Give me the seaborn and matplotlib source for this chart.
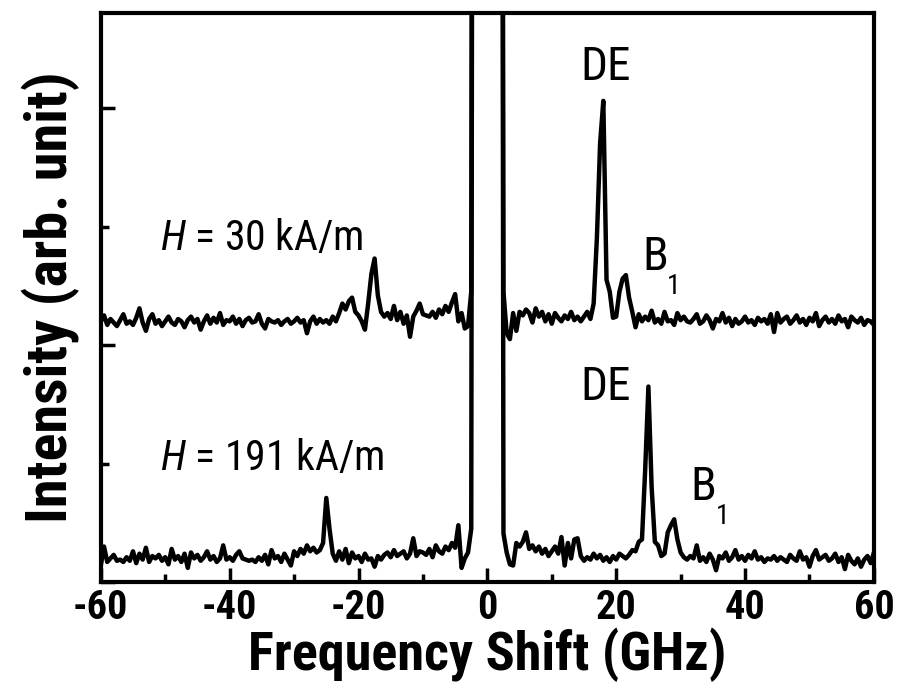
import numpy as np
import pandas as pd
import matplotlib
matplotlib.use("Agg")
import matplotlib.pyplot as plt
from matplotlib import font_manager as fm
import seaborn as sns

# frequency grid, 0.5 GHz steps from -60 to 60
freq = np.arange(-60, 60.25, 0.5)

# H = 30 kA/m spectrum (offset upward)
upper = [
    2.20, 2.25, 2.17, 2.22, 2.19, 2.16, 2.21, 2.26, 2.18, 2.20,   # -60
    2.17, 2.23, 2.31, 2.19, 2.12, 2.22, 2.26, 2.18, 2.21, 2.16,   # -55
    2.20, 2.24, 2.19, 2.17, 2.22, 2.20, 2.15, 2.21, 2.24, 2.19,   # -50
    2.22, 2.13, 2.20, 2.25, 2.18, 2.23, 2.19, 2.27, 2.17, 2.21,   # -45
    2.20, 2.24, 2.18, 2.22, 2.16, 2.21, 2.23, 2.19, 2.20, 2.26,   # -40
    2.18, 2.14, 2.22, 2.20, 2.19, 2.21, 2.17, 2.20, 2.22, 2.18,   # -35
    2.20, 2.23, 2.19, 2.21, 2.10, 2.20, 2.24, 2.18, 2.22, 2.19,   # -30
    2.21, 2.18, 2.24, 2.20, 2.27, 2.35, 2.30, 2.37, 2.40, 2.28,   # -25
    2.25, 2.20, 2.13, 2.35, 2.60, 2.73, 2.42, 2.28, 2.24, 2.27,   # -20
    2.22, 2.33, 2.21, 2.28, 2.18, 2.25, 2.07, 2.24, 2.29, 2.35,   # -15
    2.26, 2.25, 2.24, 2.28, 2.23, 2.30, 2.26, 2.33, 2.28, 2.36,   # -10
    2.43, 2.20, 2.27, 2.14, 2.16, 2.45, 20.0, 28.0, 32.0, 35.0,   # -5
    36.0, 35.0, 32.0, 28.0, 20.0, 2.45, 2.10, 2.05, 2.27, 2.12,   # 0
    2.28, 2.25, 2.30, 2.27, 2.19, 2.31, 2.24, 2.28, 2.20, 2.26,   # 5
    2.18, 2.27, 2.23, 2.20, 2.25, 2.22, 2.28, 2.21, 2.24, 2.20,   # 10
    2.24, 2.28, 2.22, 2.35, 2.90, 3.70, 4.06, 2.55, 2.45, 2.23,   # 15
    2.24, 2.45, 2.56, 2.59, 2.40, 2.28, 2.15, 2.26, 2.20, 2.24,   # 20
    2.21, 2.29, 2.19, 2.22, 2.18, 2.28, 2.20, 2.21, 2.17, 2.27,   # 25
    2.21, 2.24, 2.20, 2.19, 2.22, 2.26, 2.18, 2.20, 2.25, 2.21,   # 30
    2.14, 2.22, 2.20, 2.27, 2.19, 2.23, 2.16, 2.22, 2.18, 2.20,   # 35
    2.24, 2.19, 2.21, 2.17, 2.23, 2.20, 2.22, 2.18, 2.26, 2.11,   # 40
    2.27, 2.19, 2.22, 2.24, 2.18, 2.21, 2.25, 2.19, 2.22, 2.17,   # 45
    2.23, 2.20, 2.27, 2.16, 2.21, 2.24, 2.19, 2.22, 2.18, 2.25,   # 50
    2.20, 2.22, 2.15, 2.24, 2.21, 2.19, 2.23, 2.17, 2.21, 2.20,   # 55
    2.17,                                                         # 60
]

# H = 191 kA/m spectrum
lower = [
    0.14, 0.30, 0.17, 0.20, 0.23, 0.18, 0.19, 0.17, 0.21, 0.18,   # -60
    0.26, 0.16, 0.24, 0.19, 0.29, 0.17, 0.22, 0.20, 0.23, 0.18,   # -55
    0.21, 0.15, 0.28, 0.19, 0.22, 0.17, 0.24, 0.12, 0.25, 0.20,   # -50
    0.23, 0.18, 0.21, 0.26, 0.19, 0.22, 0.17, 0.20, 0.31, 0.19,   # -45
    0.21, 0.18, 0.23, 0.26, 0.20, 0.19, 0.18, 0.19, 0.17, 0.21,   # -40
    0.18, 0.23, 0.15, 0.27, 0.20, 0.22, 0.17, 0.24, 0.19, 0.14,   # -35
    0.26, 0.22, 0.28, 0.24, 0.31, 0.26, 0.29, 0.25, 0.27, 0.33,   # -30
    0.71, 0.45, 0.24, 0.18, 0.26, 0.19, 0.28, 0.16, 0.25, 0.20,   # -25
    0.22, 0.17, 0.24, 0.19, 0.20, 0.13, 0.22, 0.19, 0.23, 0.25,   # -20
    0.21, 0.27, 0.22, 0.24, 0.26, 0.20, 0.24, 0.37, 0.22, 0.26,   # -15
    0.25, 0.23, 0.28, 0.21, 0.31, 0.26, 0.24, 0.30, 0.27, 0.33,   # -10
    0.29, 0.48, 0.12, 0.20, 0.25, 0.45, 20.0, 28.0, 32.0, 35.0,   # -5
    36.0, 35.0, 32.0, 28.0, 20.0, 0.41, 0.25, 0.15, 0.14, 0.33,   # 0
    0.30, 0.34, 0.42, 0.28, 0.31, 0.26, 0.30, 0.24, 0.28, 0.22,   # 5
    0.26, 0.30, 0.24, 0.38, 0.14, 0.33, 0.20, 0.36, 0.37, 0.22,   # 10
    0.18, 0.21, 0.19, 0.24, 0.20, 0.23, 0.18, 0.21, 0.17, 0.22,   # 15
    0.19, 0.24, 0.22, 0.20, 0.23, 0.27, 0.26, 0.34, 0.36, 0.95,   # 20
    1.65, 0.80, 0.34, 0.31, 0.22, 0.24, 0.42, 0.48, 0.53, 0.36,   # 25
    0.25, 0.21, 0.19, 0.22, 0.20, 0.31, 0.18, 0.21, 0.17, 0.24,   # 30
    0.19, 0.10, 0.22, 0.20, 0.25, 0.18, 0.21, 0.27, 0.19, 0.22,   # 35
    0.18, 0.23, 0.20, 0.26, 0.19, 0.21, 0.17, 0.20, 0.19, 0.22,   # 40
    0.18, 0.21, 0.19, 0.17, 0.23, 0.20, 0.18, 0.26, 0.19, 0.21,   # 45
    0.13, 0.22, 0.27, 0.19, 0.21, 0.23, 0.18, 0.20, 0.24, 0.17,   # 50
    0.21, 0.11, 0.23, 0.18, 0.15, 0.20, 0.13, 0.19, 0.22, 0.16,   # 55
    0.25,                                                         # 60
]

df = pd.concat([
    pd.DataFrame({'freq': freq, 'intensity': upper, 'field': '30'}),
    pd.DataFrame({'freq': freq, 'intensity': lower, 'field': '191'}),
])


def pick_font():
    # prefer a narrow sans (the original looks like condensed Calibri)
    fonts = fm.fontManager.ttflist
    names = {f.name for f in fonts}
    for n in ['Liberation Sans Narrow', 'Roboto Condensed', 'Open Sans Condensed',
              'Noto Sans Condensed', 'DejaVu Sans Condensed']:
        if n in names:
            return n, 'normal'
    for n in ['Noto Sans', 'Open Sans', 'Roboto', 'DejaVu Sans']:
        if any(f.name == n and f.stretch in ('condensed', 'semi-condensed')
               for f in fonts):
            return n, 'condensed'
    return 'Lato', 'normal'


family, stretch = pick_font()

sns.set_style("ticks")
plt.rcParams['font.family'] = [family, 'DejaVu Sans']
plt.rcParams['font.stretch'] = stretch
plt.rcParams['text.color'] = 'black'
plt.rcParams['axes.labelcolor'] = 'black'
plt.rcParams['xtick.color'] = 'black'
plt.rcParams['ytick.color'] = 'black'
plt.rcParams['mathtext.fontset'] = 'custom'
plt.rcParams['mathtext.rm'] = family
plt.rcParams['mathtext.it'] = family + ':italic'

fig = plt.figure(figsize=(9, 6.93), dpi=100)
ax = fig.add_axes([0.112, 0.160, 0.859, 0.821])

sns.lineplot(data=df, x='freq', y='intensity', hue='field',
             palette=['black', 'black'], linewidth=3.2, legend=False,
             estimator=None, sort=False, ax=ax)

ax.set_xlim(-60, 60)
ax.set_ylim(0, 4.8)
ax.set_xticks(np.arange(-60, 61, 20))
ax.set_xticks(np.arange(-50, 60, 10), minor=True)
ax.set_yticks([0, 2, 4])
ax.set_yticks([1, 3], minor=True)
ax.set_yticklabels([])
ax.set_xticklabels(['-60', '-40', '-20', '0', '20', '40', '60'],
                   fontsize=29, fontweight='bold')

for sp in ax.spines.values():
    sp.set_linewidth(3)
    sp.set_color('black')

ax.tick_params(which='both', direction='in', width=2.5, color='black')
ax.tick_params(which='major', length=10, pad=5)
ax.tick_params(which='minor', length=6)

ax.set_xlabel('Frequency Shift (GHz)', fontsize=39, fontweight='bold', labelpad=0)
ax.set_ylabel('Intensity (arb. unit)', fontsize=42, fontweight='bold', labelpad=10)

# annotations
ax.text(-50.8, 2.80, r'$\mathit{H}$ = 30 kA/m', fontsize=30)
ax.text(-50.8, 0.95, r'$\mathit{H}$ = 191 kA/m', fontsize=30)
ax.text(14.4, 4.24, 'DE', fontsize=34)
ax.text(24.0, 2.63, 'B', fontsize=34)
ax.text(27.9, 2.43, '1', fontsize=20)
ax.text(14.4, 1.54, 'DE', fontsize=34)
ax.text(31.5, 0.69, 'B', fontsize=34)
ax.text(35.4, 0.49, '1', fontsize=20)

fig.savefig('out.png', dpi=100)
